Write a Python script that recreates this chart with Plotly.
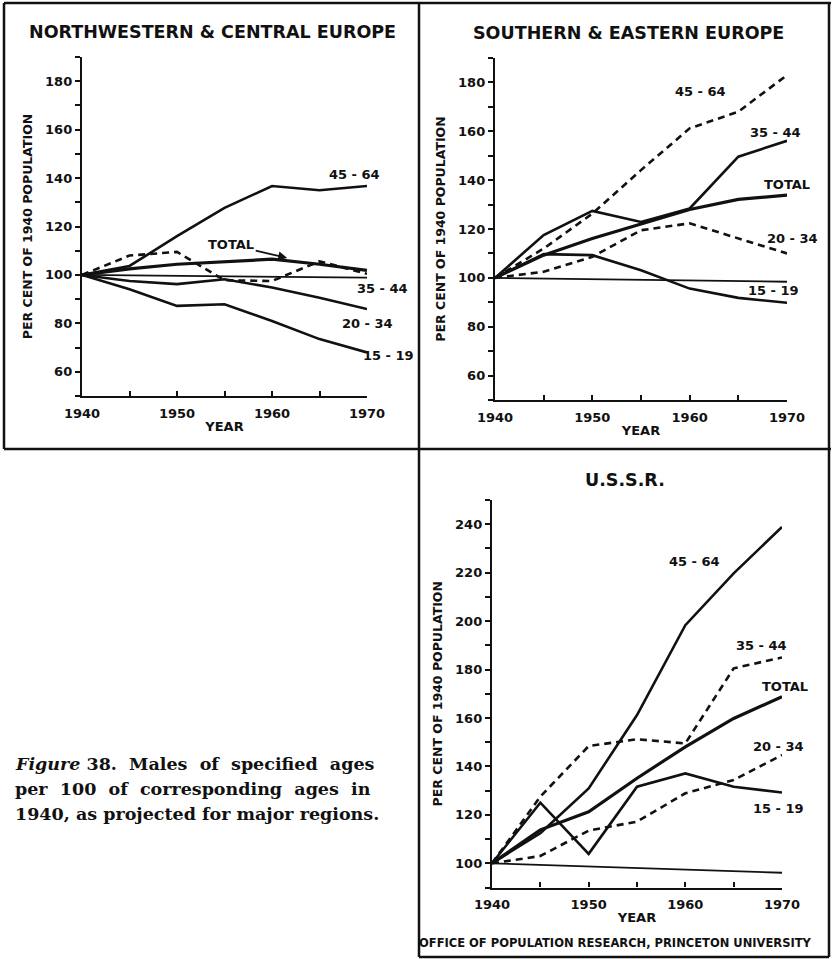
import plotly.graph_objects as go

W, H = 832, 959

years = [1940, 1945, 1950, 1955, 1960, 1965, 1970]
ref_years = [1940, 1970]

# Northwestern & Central Europe
nw_45_64 = [100, 103.7, 116, 127.7, 136.7, 135, 136.7]
nw_35_44 = [100, 108, 109.5, 97.8, 97.5, 105.6, 100.5]
nw_20_34 = [100, 97.5, 96.2, 98.2, 94.8, 90.6, 85.9]
nw_15_19 = [100, 94.1, 87.2, 87.9, 81, 73.5, 68]
nw_total = [100, 102.5, 104.4, 105.5, 106.5, 104.4, 101.9]
nw_ref = [100, 98.9]

# Southern & Eastern Europe
se_45_64 = [100, 112, 126.3, 144.1, 161.2, 168, 183]
se_35_44 = [100, 117.5, 127.4, 122.9, 128.4, 149.6, 156.1]
se_20_34 = [100, 102.5, 108.6, 119.5, 122.3, 116.1, 110]
se_15_19 = [100, 109.7, 109.3, 103.1, 95.6, 91.8, 89.8]
se_total = [100, 109.3, 116.1, 122, 128, 132.1, 133.9]
se_ref = [100, 98.4]

# U.S.S.R.
su_45_64 = [100, 112.4, 130.9, 161.2, 198.3, 219.7, 238.9]
su_35_44 = [100, 127.5, 148.4, 151.2, 149.5, 180.5, 185]
su_20_34 = [100, 103, 113.5, 117.2, 128.9, 134.4, 144.7]
su_15_19 = [100, 125, 103.9, 131.6, 137.1, 131.6, 129.2]
su_total = [100, 113.8, 121.3, 135.1, 148.1, 159.8, 168.8]
su_ref = [100, 96.1]

x_ticks = [1940, 1945, 1950, 1955, 1960, 1965, 1970]
x_labels = ["1940", "", "1950", "", "1960", "", "1970"]

SANS = "DejaVu Sans"
INK = "#111111"


def px_x(p):
    return p / W


def px_y(p):
    return 1 - p / H


fig = go.Figure()


def add_line(ax, x, y, width=2.6, dash="solid"):
    fig.add_trace(
        go.Scatter(
            x=x, y=y, mode="lines",
            line=dict(color=INK, width=width, dash=dash),
            xaxis="x" + ax, yaxis="y" + ax,
            showlegend=False, hoverinfo="skip",
        )
    )


DASH = "7px,5px"

# panel 1
add_line("", years, nw_45_64)
add_line("", years, nw_total, width=3.2)
add_line("", years, nw_35_44, dash=DASH)
add_line("", ref_years, nw_ref, width=1.8)
add_line("", years, nw_20_34)
add_line("", years, nw_15_19)

# panel 2
add_line("2", years, se_45_64, dash=DASH)
add_line("2", years, se_35_44)
add_line("2", years, se_total, width=3.2)
add_line("2", years, se_20_34, dash=DASH)
add_line("2", ref_years, se_ref, width=1.8)
add_line("2", years, se_15_19)

# panel 3
add_line("3", years, su_45_64)
add_line("3", years, su_35_44, dash=DASH)
add_line("3", years, su_total, width=3.2)
add_line("3", years, su_20_34, dash=DASH)
add_line("3", ref_years, su_ref, width=1.8)
add_line("3", years, su_15_19)


def y_ticks(lo, hi):
    vals = list(range(lo, hi + 1, 10))
    text = [str(v) if v % 20 == 0 and v != lo and v != hi else "" for v in vals]
    return vals, text


def xaxis(domain, anchor):
    return dict(
        domain=domain, anchor=anchor, range=[1940, 1970], automargin=False,
        showline=True, linecolor=INK, linewidth=2.4,
        ticks="inside", ticklen=5, tickwidth=2, tickcolor=INK,
        tickvals=x_ticks, ticktext=x_labels,
        tickfont=dict(family=SANS, size=13, color=INK, weight="bold"),
        ticklabelstandoff=4,
        showgrid=False, zeroline=False, fixedrange=True,
        title=dict(text="YEAR", standoff=2,
                   font=dict(family=SANS, size=13, color=INK, weight="bold")),
    )


def yaxis(domain, anchor, lo, hi):
    vals, text = y_ticks(lo, hi)
    return dict(
        domain=domain, anchor=anchor, range=[lo, hi], automargin=False,
        showline=True, linecolor=INK, linewidth=2.4,
        ticks="outside", ticklen=5, tickwidth=2, tickcolor=INK,
        tickvals=vals, ticktext=text,
        tickfont=dict(family=SANS, size=13, color=INK, weight="bold"),
        showgrid=False, zeroline=False, fixedrange=True,
        title=dict(text="PER CENT OF 1940 POPULATION", standoff=10,
                   font=dict(family=SANS, size=12.5, color=INK, weight="bold")),
    )


fig.update_layout(
    xaxis=xaxis([px_x(82), px_x(367)], "y"),
    yaxis=yaxis([px_y(396), px_y(57)], "x", 50, 190),
    xaxis2=xaxis([px_x(495), px_x(787)], "y2"),
    yaxis2=yaxis([px_y(400), px_y(58)], "x2", 50, 190),
    xaxis3=xaxis([px_x(492), px_x(782)], "y3"),
    yaxis3=yaxis([px_y(887.5), px_y(500)], "x3", 90, 250),
)

LBL = dict(family=SANS, size=13, color=INK, weight="bold")
TTL = dict(family=SANS, size=17.5, color=INK, weight="bold")

ann = []


def label(ax, x, y, text, dx=0):
    ann.append(dict(x=x, y=y, xref="x" + ax, yref="y" + ax, text=text,
                    showarrow=False, font=LBL, xshift=dx))


# line labels (x kept inside the axis range, pushed right with xshift)
label("", 1968.7, 141.6, "45 - 64")
label("", 1970, 94.2, "35 - 44", dx=15)
label("", 1970, 79.8, "20 - 34")
label("", 1970, 66.6, "15 - 19", dx=21)
ann.append(dict(x=1961.6, y=107, xref="x", yref="y", text="TOTAL",
                showarrow=True, arrowhead=2, arrowsize=1, arrowwidth=1.8,
                arrowcolor=INK, ax=-56, ay=-13, font=LBL, standoff=0))

label("2", 1961.1, 176.2, "45 - 64")
label("2", 1968.8, 159.4, "35 - 44")
label("2", 1970, 138.4, "TOTAL")
label("2", 1970, 116.1, "20 - 34", dx=5)
label("2", 1968.6, 94.7, "15 - 19")

label("3", 1960.9, 224.7, "45 - 64")
label("3", 1967.9, 190.1, "35 - 44")
label("3", 1970, 172.9, "TOTAL", dx=3)
label("3", 1969.6, 148.1, "20 - 34")
label("3", 1969.6, 122.7, "15 - 19")

# panel titles
for x, y, t in [(213, 32, "NORTHWESTERN & CENTRAL EUROPE"),
                (628, 33, "SOUTHERN & EASTERN EUROPE"),
                (625, 480, "U.S.S.R.")]:
    ann.append(dict(x=px_x(x), y=px_y(y), xref="paper", yref="paper", text=t,
                    showarrow=False, font=TTL, xanchor="center", yanchor="middle"))

# footer
ann.append(dict(x=px_x(417), y=px_y(943), xref="paper", yref="paper",
                text="OFFICE OF POPULATION RESEARCH, PRINCETON UNIVERSITY",
                showarrow=False, xanchor="left", yanchor="middle",
                font=dict(family=SANS, size=11.5, color=INK, weight="bold")))

# caption
cap = [
    "<i>Figure</i> 38.  Males  of  specified  ages",
    "per  100  of  corresponding  ages  in",
    "1940, as projected for major regions.",
]
for i, line in enumerate(cap):
    ann.append(dict(x=px_x(13), y=px_y(764 + 25 * i), xref="paper", yref="paper",
                    text=line, showarrow=False, xanchor="left", yanchor="middle",
                    font=dict(family="DejaVu Serif", size=17.5, color=INK, weight="bold")))

# frames
shapes = []
for x0, y0, x1, y1 in [(4, 3, 419, 3), (4, 3, 4, 449), (4, 449, 831, 449),
                       (419, 3, 419, 957), (419, 957, 829, 957), (829, 3, 829, 957),
                       (419, 3, 831, 3)]:
    shapes.append(dict(type="line", xref="paper", yref="paper",
                       x0=px_x(x0), y0=px_y(y0), x1=px_x(x1), y1=px_y(y1),
                       line=dict(color=INK, width=2.5)))

fig.update_layout(
    width=W, height=H, autosize=False,
    margin=dict(l=0, r=0, t=0, b=0, autoexpand=False),
    paper_bgcolor="white", plot_bgcolor="white",
    annotations=ann, shapes=shapes, showlegend=False,
)

fig.write_html("out.html", config={"displayModeBar": False},
               post_script="document.body.style.margin='0';")
